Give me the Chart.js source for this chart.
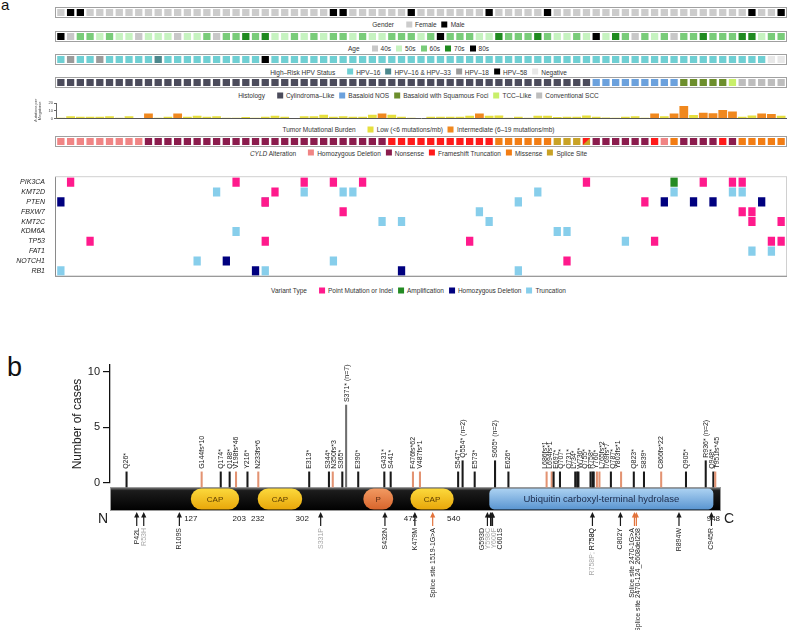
<!DOCTYPE html>
<html>
<head>
<meta charset="utf-8">
<title>CYLD oncoprint and lollipop</title>
<script src="https://cdn.jsdelivr.net/npm/chart.js@4.4.1/dist/chart.umd.min.js"></script>
<style>
  body { margin: 0; background: #fff; font-family: "Liberation Sans", Arial, sans-serif; }
  #page { position: relative; width: 788px; height: 630px; overflow: hidden; }
  .track { position: absolute; left: 55px; width: 730px; height: 9px; border: 1px solid #a0a0a0; }
  .track canvas, .abs canvas { display: block; }
  .abs { position: absolute; left: 0; }
  .legend { position: absolute; left: 421px; transform: translate(-50%, -50%); white-space: nowrap;
            font-size: 6.5px; color: #333; display: flex; align-items: center; }
  .legend .ttl { margin-right: 12px; }
  .legend .sw { display: inline-block; width: 6px; height: 6px; margin-right: 3px; }
  .legend .it { display: flex; align-items: center; margin-right: 5px; }
  .letter { position: absolute; color: #111; }
</style>
</head>
<body>
<div id="page">
  <div class="letter" style="left:1px;top:-4px;font-size:15px;">a</div>
  <div class="track" style="top:7px"><canvas id="gender" width="730" height="9"></canvas></div>
  <div class="legend" style="top:24px" id="lg-gender"></div>
  <div class="track" style="top:31px"><canvas id="age" width="730" height="9"></canvas></div>
  <div class="legend" style="top:48px" id="lg-age"></div>
  <div class="track" style="top:54px"><canvas id="hpv" width="730" height="9"></canvas></div>
  <div class="legend" style="top:71.5px" id="lg-hpv"></div>
  <div class="track" style="top:77px"><canvas id="histology" width="730" height="9"></canvas></div>
  <div class="legend" style="top:95px" id="lg-histology"></div>
  <div class="abs" style="top:98px"><canvas id="tmb" width="788" height="24"></canvas></div>
  <div class="legend" style="top:129px" id="lg-tmb"></div>
  <div class="track" style="top:136px"><canvas id="cyld" width="730" height="9"></canvas></div>
  <div class="legend" style="top:152.5px" id="lg-cyld"></div>
  <div class="abs" style="top:170px"><canvas id="matrix" width="788" height="113"></canvas></div>
  <div class="legend" style="top:290px" id="lg-variant"></div>

  <div class="letter" style="left:7px;top:352px;font-size:27px;">b</div>
  <div class="abs" style="top:330px"><canvas id="lollipop" width="788" height="300"></canvas></div>
</div>

<script>
Chart.defaults.font.family = '"Liberation Sans", Arial, sans-serif';

// ---- panel a: clinical tracks, one code per sample (75 samples) ----
const gender = ['F','M','M','F','F','F','F','F','F','F','F','F','F','F','F','F','F','F','F','F',
  'F','F','F','F','F','F','F','F','M','M','F','F','F','F','F','F','M','F','F','F',
  'F','F','F','F','M','F','F','F','F','F','M','F','F','F','F','F','F','F','F','F',
  'F','F','F','F','F','F','F','F','F','F','F','M','F','F','M'];

const age = ['80','40','60','60','50','60','50','50','40','50','50','50','40','50','50','60','40','60','60','70',
  '60','70','50','50','60','50','60','50','60','60','50','60','50','50','60','60','60','50','60','80',
  '60','60','60','50','50','70','60','60','60','70','60','50','50','60','50','80','50','70','60','40',
  '60','50','60','40','60','60','70','60','60','60','70','70','50','60','60'];

const hpv = ['16','18','16','16','18','16','16','16','16','16','16/33','16','16','16','16','16','16','16','16','16',
  '16','58','16','16','16','16','16','16','16','16','16','16','16','16','16','16','16','16','16','16',
  '16','16','16','16','16','16','16','16','16','16','16','16','16','16','16','16','16','16','16','16',
  '16','16','16','16','16','16','16','16','16','16','16','16','16','neg','neg'];

const histology = ['CYL','CYL','CYL','CYL','CYL','CYL','CYL','CYL','CYL','CYL','CYL','CYL','CYL','CYL','CYL','CYL','CYL','CYL','CYL','CYL',
  'CYL','CYL','CYL','CYL','CYL','CYL','CYL','CYL','CYL','CYL','CYL','CYL','CYL','CYL','CYL','CYL','CYL','CYL','CYL','CYL',
  'CYL','CYL','CYL','CYL','CYL','CYL','CYL','CYL','CYL','CYL','CYL','CYL','CYL','CYL','CYL','BNOS','BNOS','BNOS','BNOS','BNOS',
  'BNOS','BNOS','BNOS','BNOS','BSQ','BSQ','BSQ','BSQ','BSQ','TCC','SCC','SCC','SCC','SCC','SCC'];

// mutations per megabase (null = no bar)
const tmb = [1.2, 3, 2.5, 2.5, 2.5, 3, 1.2, 3, null, 6.5, 1.2, 2.5, 6.5, 2.5, 3.5, 2.5, 3, 1, 1, 2,
  1, 2.5, 3.5, 2.5, null, 3, 3, 5, 2.5, 3, 2.5, 2.5, 5, 6.5, 5, 2.5, 1.2, null, 2.5, 2.5,
  2.5, 2.5, 3.5, 6.5, 3.5, 4, 1, 2.5, 1, 3.5, 3.5, 2, 2.5, 2.5, 4, 2.5, 1.5, 1, 2.5, 3,
  1, 6.5, 3, 6.5, 16, 4.5, 7.5, 7, 11, 9, 2.5, 4, 6.5, 6, 3.5];
const tmbTicks = [0, 10, 20];

// HD homozygous deletion, NS nonsense, FS frameshift, MS missense, SP splice, 'FS+SP' split cell
const cyld = ['HD','HD','HD','HD','HD','HD','HD','HD','HD','NS','NS','NS','NS','NS','NS','NS','NS','NS','NS','NS',
  'NS','NS','NS','NS','NS','NS','NS','NS','NS','NS','NS','NS','NS','NS','FS','FS','FS','FS','FS','FS',
  'FS','FS','FS','FS','FS','MS','MS','MS','MS','MS','MS','SP','SP','SP','FS+SP','NS','NS','NS','NS','NS',
  'NS','FS','HD','MS','NS','NS','NS','NS','FS','NS','MS','MS','MS','MS','MS'];

// ---- panel a: gene matrix, sample indices per gene ----
const genes = ['PIK3CA','KMT2D','PTEN','FBXW7','KMT2C','KDM6A','TP53','FAT1','NOTCH1','RB1'];
const pointMutation = { PIK3CA: [1,18,25,28,31,54,66,69,70], KMT2D: [22], PTEN: [21,60],
  FBXW7: [29,70,71], KMT2C: [71,74], TP53: [3,21,42,61,73,74], NOTCH1: [52] };
const amplification = { PIK3CA: [63] };
const homDeletion = { PTEN: [0,62,65,67,72], NOTCH1: [17], RB1: [20,35] };
const truncation = { KMT2D: [16,25,29,30,49,63,69,70], PTEN: [21,47], FBXW7: [43],
  KMT2C: [33,35,44], KDM6A: [18,51,52], TP53: [58], FAT1: [71,73], NOTCH1: [14,28], RB1: [0,21,47] };

// ---- panel b: CYLD lollipop ----
const stemLabels = ['Q26*','G144fs*10','Q174*','Q188*','V198fs*46','Y216*','N233fs*6','E313*','S344*','N350fs*3',
  'S365*','S371* (n=7)','E390*','G431*','S441*','F476fs*62','V487fs*1','S547*','Q554* (n=2)','E573*',
  'S605* (n=2)','E626*','L686fs*1','L694fs*1','E697*','Q707*','Q731*','L734*','W736*','Q755*',
  'R758*','Y760*','L765fs*2','I769fs*7','Q787*','Y803fs*1','Q823*','S839*','C866fs*22','Q905*',
  'R936* (n=2)','Q948*','T951fs*45'];
const stemPos = [26,144,174,188,198,216,233,313,344,350, 365,371,390,431,441,476,487,547,554,573,
  605,626,686,694,697,707,731,734,736,755, 758,760,765,769,787,803,823,839,866,905, 936,948,951];
const stemCases = [1,1,1,1,1,1,1,1,1,1, 1,7,1,1,1,1,1,1,2,1, 2,1,1,1,1,1,1,1,1,1, 1,1,1,1,1,1,1,1,1,1, 2,1,1];
const stemKind = ['stop','fs','stop','stop','fs','stop','fs','stop','stop','fs',
  'stop','multi','stop','stop','stop','fs','fs','stop','stop','stop',
  'stop','stop','fs','fs','stop','stop','stop','stop','stop','stop',
  'stop','stop','fs','fs','stop','fs','stop','stop','fs','stop',
  'stop','stop','fs'];

const armLabels = ['P42L','R53H','R109S','S331P','S432N','K479M','Splice site 1519-1G>A','G593D','Y598C','Y600F',
  'C601S','R758P; R758Q','C802Y','Splice site 2470-1G>A','Splice site 2470-124_2608del258','R894W','C945R'];
const armPos = [42,53,109,331,432,479,507,593,598,600, 601,758,802,824,827,894,945];
const armKind = ['mis','grey','mis','grey','mis','mis','splice','mis','grey','grey',
  'mis','mixed','mis','splice','splice','mis','mis'];

const domainNames = ['CAP','CAP','P','CAP','Ubiquitin carboxyl-terminal hydrolase'];
const domainStart = [127,232,398,472,596];
const domainEnd = [203,302,445,540,948];
const domainKind = ['cap','cap','p','cap','usp'];
const boundaryTicks = [127,203,232,302,472,540,948];
const caseTicks = [0, 5, 10];

// ---- colours ----
const genderColors = { F: '#cccccc', M: '#000000' };
const ageColors = { '40': '#c8c8c8', '50': '#c6f3c0', '60': '#79cc79', '70': '#1f8a1f', '80': '#000000' };
const hpvColors = { '16': '#6fcfd3', '16/33': '#4c888d', '18': '#9b9b9b', '58': '#000000', neg: '#e8e8e8' };
const histColors = { CYL: '#4b4b5b', BNOS: '#6ba1dd', BSQ: '#6c8e2c', TCC: '#c8ef6a', SCC: '#bdbdbd' };
const tmbColors = { low: '#e6df3e', mid: '#f0881e' };
const cyldColors = { HD: '#f08585', NS: '#8b1c4d', FS: '#ff1a1a', MS: '#f27d14', SP: '#c9a226' };
const variantColors = { point: '#ff1a8c', amp: '#238b23', del: '#00007f', trunc: '#87ceeb' };
const stemColors = { stop: '#1a1a1a', fs: '#e39372', multi: '#6e6e6e' };

const samples = gender.map((_, i) => 'S' + (i + 1));

// ---- legends ----
function legend(id, title, items) {
  document.getElementById(id).innerHTML = '<span class="ttl">' + title + '</span>' +
    items.map(([c, t]) => '<span class="it"><span class="sw" style="background:' + c + '"></span>' + t + '</span>').join('');
}
legend('lg-gender', 'Gender', [[genderColors.F, 'Female'], [genderColors.M, 'Male']]);
legend('lg-age', 'Age', [['40','40s'],['50','50s'],['60','60s'],['70','70s'],['80','80s']].map(([k, t]) => [ageColors[k], t]));
legend('lg-hpv', 'High\u2013Risk HPV Status', [[hpvColors['16'], 'HPV\u201316'], [hpvColors['16/33'], 'HPV\u201316 &amp; HPV\u201333'],
  [hpvColors['18'], 'HPV\u201318'], [hpvColors['58'], 'HPV\u201358'], [hpvColors.neg, 'Negative']]);
legend('lg-histology', 'Histology', [[histColors.CYL, 'Cylindroma\u2013Like'], [histColors.BNOS, 'Basaloid NOS'],
  [histColors.BSQ, 'Basaloid with Squamous Foci'], [histColors.TCC, 'TCC\u2013Like'], [histColors.SCC, 'Conventional SCC']]);
legend('lg-tmb', 'Tumor Mutational Burden', [[tmbColors.low, 'Low (&lt;6 mutations/mb)'], [tmbColors.mid, 'Intermediate (6\u201319 mutations/mb)']]);
legend('lg-cyld', '<i>CYLD</i> Alteration', [[cyldColors.HD, 'Homozygous Deletion'], [cyldColors.NS, 'Nonsense'],
  [cyldColors.FS, 'Frameshift Truncation'], [cyldColors.MS, 'Missense'], [cyldColors.SP, 'Splice Site']]);
legend('lg-variant', 'Variant Type', [[variantColors.point, 'Point Mutation or Indel'], [variantColors.amp, 'Amplification'],
  [variantColors.del, 'Homozygous Deletion'], [variantColors.trunc, 'Truncation']]);

function cellRect(el) {
  const p = el.getProps(['x', 'y', 'base', 'width'], true);
  return { l: p.x - p.width / 2, r: p.x + p.width / 2, t: Math.min(p.y, p.base), b: Math.max(p.y, p.base) };
}

// a "A+B" cell: B fills the square, A the upper-left triangle
const splitCells = {
  id: 'splitCells',
  afterDatasetsDraw(chart, args, opts) {
    if (!opts.values) return;
    const ctx = chart.ctx, meta = chart.getDatasetMeta(0);
    opts.values.forEach((v, i) => {
      if (!v.includes('+')) return;
      const c = cellRect(meta.data[i]);
      ctx.fillStyle = opts.colors[v.split('+')[0]];
      ctx.beginPath(); ctx.moveTo(c.l, c.t); ctx.lineTo(c.r, c.t); ctx.lineTo(c.l, c.b); ctx.closePath(); ctx.fill();
    });
  }
};

function trackChart(id, values, colors) {
  return new Chart(document.getElementById(id), {
    type: 'bar',
    data: {
      labels: samples,
      datasets: [{
        data: values.map(() => 1),
        backgroundColor: values.map(v => colors[v.split('+').pop()]),
        barPercentage: 0.75, categoryPercentage: 1
      }]
    },
    options: {
      responsive: false, animation: false, events: [],
      layout: { padding: { top: 1, bottom: 1 } },
      plugins: { legend: { display: false }, tooltip: { enabled: false }, splitCells: { values, colors } },
      scales: { x: { display: false }, y: { display: false, min: 0, max: 1 } }
    },
    plugins: [splitCells]
  });
}

trackChart('gender', gender, genderColors);
trackChart('age', age, ageColors);
trackChart('hpv', hpv, hpvColors);
trackChart('histology', histology, histColors);
trackChart('cyld', cyld, cyldColors);

// ---- tumour mutational burden ----
new Chart(document.getElementById('tmb'), {
  type: 'bar',
  data: {
    labels: samples,
    datasets: [{
      data: tmb,
      backgroundColor: tmb.map(v => v >= 6 ? tmbColors.mid : tmbColors.low),
      barPercentage: 0.9, categoryPercentage: 1
    }]
  },
  options: {
    responsive: false, animation: false, events: [],
    layout: { padding: { top: 5, right: 2, bottom: 1, left: 0 } },
    plugins: { legend: { display: false }, tooltip: { enabled: false } },
    scales: {
      x: { grid: { display: false }, ticks: { display: false }, border: { color: '#555' },
           afterFit(s) { s.height = 0; } },
      y: {
        min: 0, max: 20,
        afterFit(s) { s.width = 56; },
        afterBuildTicks(s) { s.ticks = tmbTicks.map(v => ({ value: v })); },
        ticks: { font: { size: 4 }, color: '#444', padding: 1 },
        grid: { drawOnChartArea: false, tickLength: 2, color: '#666' },
        border: { color: '#666' },
        title: { display: true, text: ['Mutations per', 'Megabase'], font: { size: 4 }, color: '#444',
                 padding: { top: 33, bottom: 0 } }
      }
    }
  }
});

// ---- gene matrix ----
const variantTables = [['point', pointMutation], ['amp', amplification], ['del', homDeletion], ['trunc', truncation]];
const matrixSets = [];
variantTables.forEach(([kind, table]) => {
  genes.forEach((g, r) => {
    const hits = table[g];
    if (!hits) return;
    matrixSets.push({
      kind, gene: g,
      data: samples.map((_, i) => hits.includes(i) ? [r - 0.46, r + 0.46] : null),
      backgroundColor: variantColors[kind],
      barPercentage: 0.75, categoryPercentage: 1, grouped: false
    });
  });
});

const matrixDecor = {
  id: 'matrixDecor',
  beforeDatasetsDraw(chart) {
    const { ctx, chartArea: a } = chart;
    ctx.save();
    ctx.strokeStyle = '#d0d0d0'; ctx.lineWidth = 1;
    ctx.strokeRect(a.left - 0.5, a.top - 0.5, a.right - a.left + 1, a.bottom - a.top + 1);
    ctx.strokeStyle = '#8a8a8a';
    ctx.beginPath(); ctx.moveTo(a.left - 1, a.bottom + 0.5); ctx.lineTo(a.right + 1, a.bottom + 0.5); ctx.stroke();
    ctx.beginPath(); ctx.moveTo(a.left - 0.5, a.top); ctx.lineTo(a.left - 0.5, a.bottom); ctx.stroke();
    ctx.restore();
  },
  afterDatasetsDraw(chart) {
    const ctx = chart.ctx;
    chart.data.datasets.forEach((ds, di) => {
      if (ds.kind !== 'trunc') return;
      const both = (pointMutation[ds.gene] || []).filter(i => truncation[ds.gene].includes(i));
      both.forEach(i => {
        const c = cellRect(chart.getDatasetMeta(di).data[i]);
        ctx.fillStyle = variantColors.point;
        ctx.beginPath(); ctx.moveTo(c.l, c.t); ctx.lineTo(c.l, c.b); ctx.lineTo(c.r, c.b); ctx.closePath(); ctx.fill();
      });
    });
  }
};

new Chart(document.getElementById('matrix'), {
  type: 'bar',
  data: { labels: samples, datasets: matrixSets },
  options: {
    responsive: false, animation: false, events: [],
    layout: { padding: { top: 1, right: 2, bottom: 1, left: 0 } },
    plugins: { legend: { display: false }, tooltip: { enabled: false } },
    scales: {
      x: { display: false },
      y: {
        min: -0.5, max: 9.5, reverse: true,
        afterFit(s) { s.width = 56; },
        afterBuildTicks(s) { s.ticks = genes.map((g, i) => ({ value: i })); },
        ticks: { callback: v => genes[v], autoSkip: false, font: { size: 7, style: 'italic' }, color: '#222', padding: 3 },
        grid: { display: false }, border: { display: false }
      }
    }
  },
  plugins: [matrixDecor]
});

// ---- lollipop ----
function spread(xs, gap) {
  const out = xs.slice();
  for (let i = 1; i < out.length; i++) if (out[i] < out[i - 1] + gap) out[i] = out[i - 1] + gap;
  let s = 0;
  while (s < out.length) {
    let e = s;
    while (e + 1 < out.length && out[e + 1] - out[e] < gap + 0.01) e++;
    if (e > s) {
      let m1 = 0, m2 = 0;
      for (let k = s; k <= e; k++) { m1 += xs[k]; m2 += out[k]; }
      let shift = (m1 - m2) / (e - s + 1);
      if (s > 0) shift = Math.max(shift, out[s - 1] + gap - out[s]);
      for (let k = s; k <= e; k++) out[k] += shift;
    }
    s = e + 1;
  }
  return out;
}

function vtext(ctx, s, x, y, align) {
  ctx.save(); ctx.translate(x, y); ctx.rotate(-Math.PI / 2);
  ctx.textAlign = align; ctx.textBaseline = 'middle'; ctx.fillText(s, 0, 0); ctx.restore();
}

const domainStyle = {
  cap: { c0: '#fcd93c', c1: '#e8a70a', text: '#5b3d00', font: '8px', radius: 11 },
  p:   { c0: '#f29a62', c1: '#d8652c', text: '#5a2a10', font: '8px', radius: 11 },
  usp: { c0: '#acd2f2', c1: '#5a95d1', text: '#1b2a4a', font: '9.5px', radius: 5 }
};

const proteinPlugin = {
  id: 'protein',
  beforeDatasetsDraw(chart) {
    const { ctx, scales: { x, y } } = chart;
    const top = y.getPixelForValue(0) + 4, h = 24, left = x.left, right = x.right;
    ctx.save();
    const g = ctx.createLinearGradient(0, top, 0, top + h);
    g.addColorStop(0, '#8c8c8c'); g.addColorStop(0.15, '#1c1c1c'); g.addColorStop(1, '#000');
    ctx.fillStyle = g; ctx.fillRect(left, top, right - left, h);
    ctx.strokeStyle = '#9a9a9a'; ctx.lineWidth = 1;
    ctx.strokeRect(left + 0.5, top + 0.5, right - left - 1, h - 1);
    domainNames.forEach((name, i) => {
      const st = domainStyle[domainKind[i]];
      const x0 = x.getPixelForValue(domainStart[i]), x1 = x.getPixelForValue(domainEnd[i]);
      const dg = ctx.createLinearGradient(0, top + 1.5, 0, top + h - 1.5);
      dg.addColorStop(0, st.c0); dg.addColorStop(1, st.c1);
      ctx.fillStyle = dg;
      ctx.beginPath(); ctx.roundRect(x0, top + 1.5, x1 - x0, h - 3, st.radius); ctx.fill();
      ctx.fillStyle = st.text; ctx.font = st.font + ' "Liberation Sans", Arial, sans-serif';
      ctx.textAlign = 'center'; ctx.textBaseline = 'middle';
      ctx.fillText(name, (x0 + x1) / 2, top + h / 2 + 0.5);
    });
    ctx.restore();
  },
  afterDatasetsDraw(chart) {
    const { ctx, scales: { x, y } } = chart;
    const top = y.getPixelForValue(0) + 4, bottom = top + 24;
    ctx.save();
    ctx.font = '7px "Liberation Sans", Arial, sans-serif';
    // labels above stems
    const sx = stemPos.map(p => x.getPixelForValue(p));
    const lx = spread(sx, 5.5);
    stemLabels.forEach((s, i) => {
      ctx.fillStyle = '#222';
      vtext(ctx, s, lx[i], y.getPixelForValue(stemCases[i]) - 3, 'left');
    });
    // arrows below the protein
    const ax = armPos.map(p => x.getPixelForValue(p));
    const alx = spread(ax, 6);
    armLabels.forEach((s, i) => {
      const k = armKind[i];
      const col = k === 'splice' ? '#e2733c' : '#1a1a1a';
      ctx.strokeStyle = col; ctx.fillStyle = col; ctx.lineWidth = 1.2;
      ctx.beginPath(); ctx.moveTo(ax[i], bottom + 5); ctx.lineTo(ax[i], bottom + 15); ctx.stroke();
      ctx.beginPath(); ctx.moveTo(ax[i], bottom + 1); ctx.lineTo(ax[i] - 2.6, bottom + 6.5); ctx.lineTo(ax[i] + 2.6, bottom + 6.5);
      ctx.closePath(); ctx.fill();
      ctx.fillStyle = k === 'grey' || k === 'mixed' ? '#a6a6a6' : '#222';
      vtext(ctx, s, alx[i], bottom + 17, 'right');
      if (k === 'mixed') { ctx.fillStyle = '#222'; vtext(ctx, s.split('; ')[1], alx[i], bottom + 17, 'right'); }
    });
    // domain boundary numbers and termini
    ctx.fillStyle = '#222'; ctx.font = '8px "Liberation Sans", Arial, sans-serif';
    ctx.textAlign = 'center'; ctx.textBaseline = 'middle';
    boundaryTicks.forEach(v => ctx.fillText(String(v), x.getPixelForValue(v), bottom + 7.5));
    ctx.font = '14px "Liberation Sans", Arial, sans-serif';
    ctx.textAlign = 'right'; ctx.fillText('N', x.left - 2, bottom + 8);
    ctx.textAlign = 'left'; ctx.fillText('C', x.right + 3, bottom + 8);
    ctx.restore();
  }
};

const stemBase = -0.36;
new Chart(document.getElementById('lollipop'), {
  type: 'bar',
  data: {
    datasets: [{
      data: stemPos.map((p, i) => ({ x: p, y: [stemBase, stemCases[i]] })),
      backgroundColor: stemKind.map(k => stemColors[k]),
      barThickness: 1.4, clip: false
    }]
  },
  options: {
    responsive: false, animation: false, events: [],
    layout: { padding: { top: 35, right: 67, bottom: 147, left: 0 } },
    plugins: { legend: { display: false }, tooltip: { enabled: false } },
    scales: {
      x: { type: 'linear', min: 0, max: 960, offset: false, display: false },
      y: {
        min: 0, max: 10.6,
        afterFit(s) { s.width = 110; },
        afterBuildTicks(s) { s.ticks = caseTicks.map(v => ({ value: v })); },
        ticks: { font: { size: 11 }, color: '#222', padding: 3 },
        grid: { drawOnChartArea: false, drawTicks: true, tickLength: 7, color: '#111', lineWidth: 1.2 },
        border: { display: true, color: '#111', width: 1.3 },
        title: { display: true, text: 'Number of cases', font: { size: 12 }, color: '#222',
                 padding: { top: 70, bottom: 0 } }
      }
    }
  },
  plugins: [proteinPlugin]
});
</script>
</body>
</html>
